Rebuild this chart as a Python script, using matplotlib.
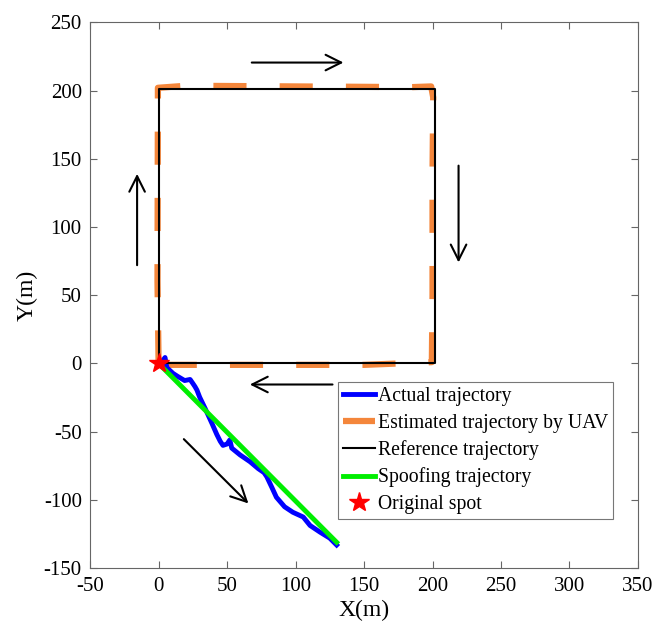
import numpy as np
import matplotlib
matplotlib.use("Agg")
import matplotlib.pyplot as plt

plt.rcParams['font.family'] = ['Liberation Serif', 'DejaVu Serif']
plt.rcParams['axes.unicode_minus'] = False

# reference square path (start at origin, counter-clockwise direction of flight: up, right, down, left)
ref_x = [0, 0, 202, 202, 0]
ref_y = [0, 201, 201, 0, 0]

# estimated trajectory by UAV (close to the reference, slightly off)
est_x = [0, -0.8, -0.5, 20, 100, 185, 199, 200.5, 200, 200, 199.5, 150, 60, 5, 0]
est_y = [0, 60, 202, 203.5, 203, 202.5, 203, 195, 140, 50, 1, -1, -1, -1, 0]

# actual trajectory (wiggly path toward spoofing end)
act_x = [1, 4.7, 6, 10.6, 14, 19, 23, 25, 26.6, 28, 30, 34, 39, 42.5, 45, 47, 50, 52, 53.4,
         59.5, 66.8, 72.7, 77, 79, 82.6, 86, 92, 98, 105.6, 110.6, 117.9, 125, 130]
act_y = [-1, 4.4, -3, -7.3, -9.5, -12.5, -11.7, -14.6, -17, -19.5, -24.7, -33, -44, -52,
         -57, -60, -59, -56, -62, -67, -72, -77, -80, -83, -90.6, -98, -105, -109, -112.5,
         -118.7, -123.6, -128, -133]

# spoofing trajectory
spoof_x = [0, 130]
spoof_y = [0, -131]

# direction arrows (start, end)
arrows = [((66, 220.5), (137, 220.5)),
          ((219, 147), (219, 72)),
          ((129, -15.4), (64.6, -15.4)),
          ((-15.7, 70), (-15.7, 141)),
          ((17, -54), (67, -104))]

fig = plt.figure(figsize=(6.53, 6.37), dpi=100)
ax = fig.add_axes([0.138, 0.108, 0.839, 0.857])

ax.plot(act_x, act_y, color='#0000ff', lw=3.5, label='Actual trajectory', zorder=3)
ax.plot(est_x, est_y, color='#f4863b', lw=4.5, dashes=(5.3, 5.3),
        label='Estimated trajectory by UAV', zorder=2)
ax.plot(ref_x, ref_y, color='black', lw=1.5, label='Reference trajectory', zorder=4)
ax.plot(spoof_x, spoof_y, color='#00ee00', lw=3.5, label='Spoofing trajectory', zorder=4)
ax.plot([0], [0], marker='*', color='#ff0000', markersize=15, linestyle='None',
        label='Original spot', zorder=5)

for (x0, y0), (x1, y1) in arrows:
    ax.annotate('', xy=(x1, y1), xytext=(x0, y0),
                arrowprops=dict(arrowstyle='->', lw=1.5, color='black', mutation_scale=28))

ax.set_xlim(-50, 350)
ax.set_ylim(-150, 250)
ax.set_xticks(np.arange(-50, 351, 50))
ax.set_yticks(np.arange(-150, 251, 50))
ax.tick_params(direction='in', top=True, right=True, length=5, width=0.8,
               color='#666666', labelsize=15, pad=6)
for s in ax.spines.values():
    s.set_color('#666666')
    s.set_linewidth(0.8)

ax.set_xlabel('X(m)', fontsize=17, labelpad=3)
ax.set_ylabel('Y(m)', fontsize=17, labelpad=4)

leg = ax.legend(loc='upper left', bbox_to_anchor=(0.4526, 0.3407), borderaxespad=0,
                fontsize=14.2, handlelength=1.6, handletextpad=0.15, labelspacing=0.38,
                borderpad=0.25, fancybox=False, framealpha=1)
leg.get_frame().set_edgecolor('#777777')
leg.get_frame().set_linewidth(0.8)

fig.savefig('out.png', dpi=100)
